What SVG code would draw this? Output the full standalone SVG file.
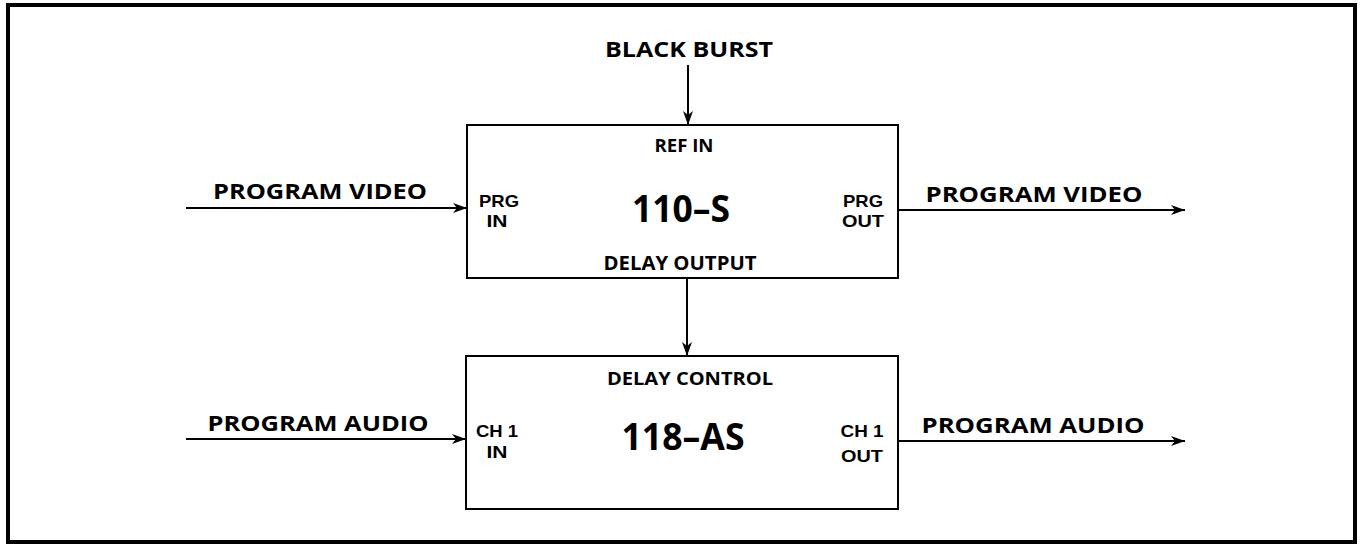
<svg xmlns="http://www.w3.org/2000/svg" width="1362" height="544" viewBox="0 0 1362 544">
<defs>
<style>
text{font-family:"Open Sans","Liberation Sans",sans-serif;font-weight:bold;fill:#000;text-anchor:middle}
.lbl{font-size:21px}
.port{font-size:18px}
.stk{font-family:"Liberation Sans","Open Sans",sans-serif;font-size:17px}
.big{font-size:38px}
.box{fill:#fff;stroke:#000;stroke-width:2}
.wire{stroke:#000;stroke-width:2;fill:none}
</style>
<marker id="arr" viewBox="0 0 14 10" refX="14" refY="5" markerWidth="14" markerHeight="10" markerUnits="userSpaceOnUse" orient="auto">
<path d="M0,0 L14,5 L0,10 L4,5 Z" fill="#000"/>
</marker>
</defs>
<rect x="0" y="0" width="1362" height="544" fill="#fff"/>
<rect x="8" y="5" width="1347" height="537" fill="none" stroke="#000" stroke-width="4"/>
<g id="connectors">
<line class="wire" x1="688" y1="65" x2="688" y2="125" marker-end="url(#arr)"/>
<line class="wire" x1="687" y1="279" x2="687" y2="356" marker-end="url(#arr)"/>
<line class="wire" x1="186" y1="208" x2="467" y2="208" marker-end="url(#arr)"/>
<line class="wire" x1="898" y1="210" x2="1185" y2="210" marker-end="url(#arr)"/>
<line class="wire" x1="186" y1="439" x2="466" y2="439" marker-end="url(#arr)"/>
<line class="wire" x1="898" y1="441" x2="1185" y2="441" marker-end="url(#arr)"/>
<text class="lbl" x="689" y="57" textLength="168" lengthAdjust="spacingAndGlyphs">BLACK BURST</text>
<text class="lbl" x="320" y="199" textLength="214" lengthAdjust="spacingAndGlyphs">PROGRAM VIDEO</text>
<text class="lbl" x="1034" y="202" textLength="217" lengthAdjust="spacingAndGlyphs">PROGRAM VIDEO</text>
<text class="lbl" x="318" y="431" textLength="221" lengthAdjust="spacingAndGlyphs">PROGRAM AUDIO</text>
<text class="lbl" x="1033" y="433" textLength="223" lengthAdjust="spacingAndGlyphs">PROGRAM AUDIO</text>
</g>
<g id="node-110S">
<rect class="box" x="467" y="125" width="431" height="153"/>
<text class="port" x="684" y="152" textLength="59" lengthAdjust="spacingAndGlyphs" style="font-size:17px">REF IN</text>
<text class="stk" x="499" y="207" textLength="40" lengthAdjust="spacingAndGlyphs">PRG</text>
<text class="stk" x="497" y="227" textLength="21" lengthAdjust="spacingAndGlyphs">IN</text>
<text class="big" x="681" y="222" textLength="98" lengthAdjust="spacingAndGlyphs">110–S</text>
<text class="stk" x="863" y="207" textLength="40" lengthAdjust="spacingAndGlyphs">PRG</text>
<text class="stk" x="863" y="227" textLength="42" lengthAdjust="spacingAndGlyphs">OUT</text>
<text class="port" x="680" y="270" textLength="153" lengthAdjust="spacingAndGlyphs" style="font-size:19px">DELAY OUTPUT</text>
</g>
<g id="node-118AS">
<rect class="box" x="466" y="356" width="432" height="153"/>
<text class="port" x="690" y="385" textLength="166" lengthAdjust="spacingAndGlyphs">DELAY CONTROL</text>
<text class="stk" x="497" y="437" textLength="42" lengthAdjust="spacingAndGlyphs">CH 1</text>
<text class="stk" x="497" y="458" textLength="21" lengthAdjust="spacingAndGlyphs">IN</text>
<text class="big" x="683" y="450" textLength="123" lengthAdjust="spacingAndGlyphs">118–AS</text>
<text class="stk" x="862" y="437" textLength="43" lengthAdjust="spacingAndGlyphs">CH 1</text>
<text class="stk" x="862" y="462" textLength="42" lengthAdjust="spacingAndGlyphs">OUT</text>
</g>
</svg>
